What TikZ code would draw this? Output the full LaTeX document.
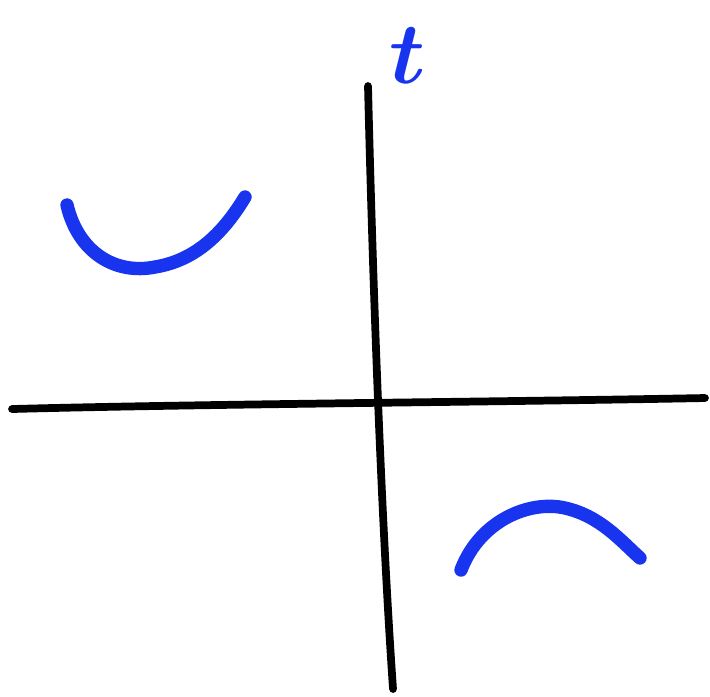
\documentclass[tikz,border=0pt]{standalone}
\usepackage{tikz}
\usetikzlibrary{calc}
\definecolor{markerblue}{RGB}{24,52,238}
\tikzset{
  axis line/.style={line width=2.2pt,black,line cap=round},
  branch curve/.style={line width=3.8pt,markerblue,line cap=round,line join=round},
  axis label/.style={text=markerblue,font=\fontsize{54}{54}\selectfont\boldmath,inner sep=0pt},
}

\begin{document}
\begin{tikzpicture}[x=0.01cm,y=-0.01cm]
\useasboundingbox (0,0) rectangle (710,696);
\fill[white] (0,0) rectangle (710,696);
% axes
\coordinate (Xleft) at (12,409);
\coordinate (Xright) at (705,398);
\coordinate (Ytop) at (368,86);
\coordinate (Ybottom) at (393,689);
\coordinate (O) at (375,403);
\draw[axis line] (Xleft) .. controls (200,404) and (500,402) .. (Xright);
\draw[axis line] (Ytop) .. controls (372,250) and (380,500) .. (Ybottom);
\node[axis label] (ylabel) at (408,56) {$t$};
% branches
\draw[branch curve] (67,205) .. controls (78,252) and (115,275) .. (155,267)
  .. controls (198,260) and (225,230) .. (245,197);
\draw[branch curve] (461,570) .. controls (480,520) and (530,500) .. (565,508)
  .. controls (600,516) and (620,540) .. (640,558);
\end{tikzpicture}
\end{document}
